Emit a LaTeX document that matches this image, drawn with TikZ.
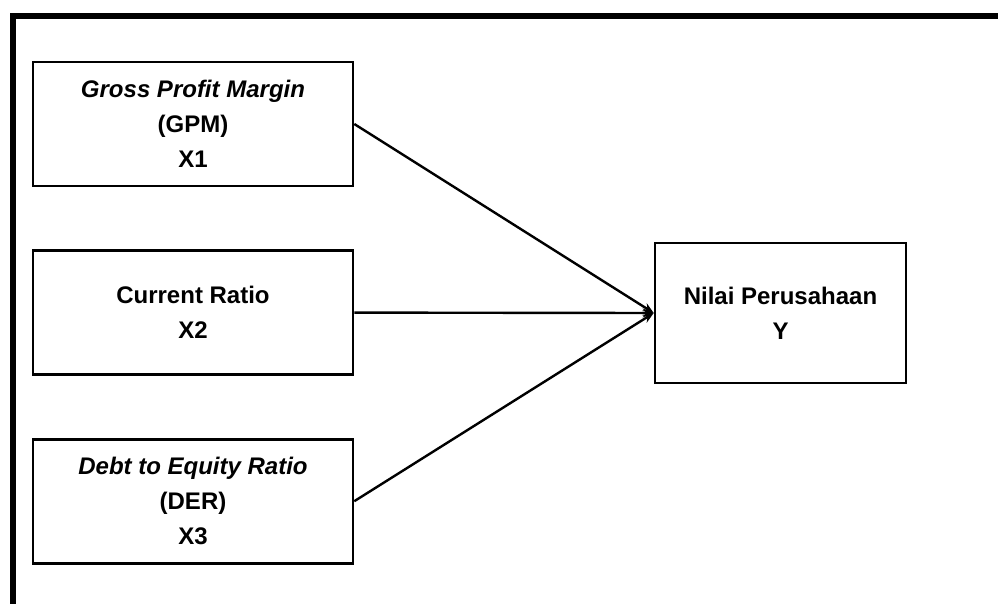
\documentclass[tikz,border=0pt]{standalone}
\usepackage{fontspec}
\setmainfont{Liberation Sans}
\usepackage{tikz}
\usetikzlibrary{positioning,arrows.meta}

\begin{document}
\begin{tikzpicture}[x=1pt, y=-1pt,
        box/.style={rectangle, draw=black, line width=2.6pt, fill=white,
                    minimum width=320pt, minimum height=124pt, inner sep=0pt,
                    font=\fontsize{24}{35}\selectfont\bfseries, align=center},
        arr/.style={-{Stealth[length=11pt,width=9pt]}, line width=2.4pt, black}
      ]
        \useasboundingbox (0,0) rectangle (998,604);
        % frame, cut off at right and bottom
        \draw[line width=6pt] (13,604) -- (13,16) -- (998,16);

        \node[box] (x1) at (193,124)
              {\textit{Gross Profit Margin}\\(GPM)\\X1};
        \node[box, below=62pt of x1] (x2) {Current Ratio\\X2};
        \node[box, below=62pt of x2] (x3)
              {\textit{Debt to Equity Ratio}\\(DER)\\X3};
        \node[box, minimum width=251pt, minimum height=140pt] (yv) at (780.5,313)
              {Nilai Perusahaan\\Y};

        \draw[arr] (x1.east) -- (yv.west);
        \draw[arr] (x2.east) -- (yv.west);
        \draw[arr] (x3.east) -- (yv.west);
      \end{tikzpicture}
\end{document}
